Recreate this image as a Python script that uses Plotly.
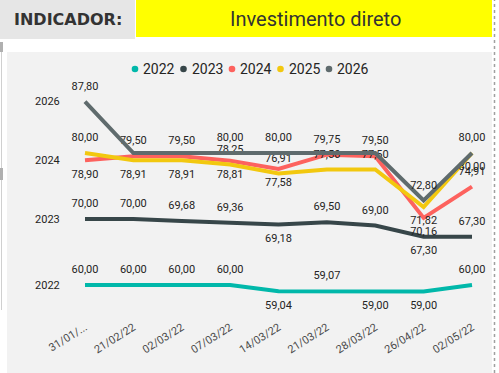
import plotly.graph_objects as go

W, H = 499, 373

# ---------------- data ----------------
dates = ["31/01/...", "21/02/22", "02/03/22", "07/03/22", "14/03/22",
         "21/03/22", "28/03/22", "26/04/22", "02/05/22"]
years = ["2022", "2023", "2024", "2025", "2026"]
colors = ["#01B8AA", "#374649", "#FD625E", "#F2C80F", "#5F6B6D"]

v2022 = [60.00, 60.00, 60.00, 60.00, 59.04, 59.07, 59.00, 59.00, 60.00]
v2023 = [70.00, 70.00, 69.68, 69.36, 69.18, 69.50, 69.00, 67.30, 67.30]
v2024 = [78.90, 79.50, 79.50, 78.81, 77.58, 79.75, 79.50, 70.16, 74.91]
v2025 = [80.00, 78.91, 78.91, 78.25, 76.91, 77.50, 77.50, 71.82, 80.00]
v2026 = [87.80, 80.00, 80.00, 80.00, 80.00, 80.00, 80.00, 72.80, 80.00]

# data label placement: 1 = above, -1 = below, 0 = hidden (overlap)
lab2022 = [1, 1, 1, 1, -1, 1, -1, -1, 1]
lab2023 = [1, 1, 1, 1, -1, 1, 1, -1, 1]
lab2024 = [-1, 1, 1, -1, -1, 1, 1, -1, 1]
lab2025 = [1, -1, -1, 1, 1, 1, 1, -1, -1]
lab2026 = [1, 0, 0, 1, 1, 0, 0, 1, 1]

axis_years = ["2022", "2023", "2024", "2026"]   # y-axis labels shown

series = [v2022, v2023, v2024, v2025, v2026]
labels = [lab2022, lab2023, lab2024, lab2025, lab2026]

# ---------------- layout helpers ----------------
def fx(px):
    return px / W

def fy(py):
    return 1 - py / H

def fmt(v):
    return f"{v:.2f}".replace(".", ",")

fig = go.Figure()

for name, col, vals, lab in zip(years, colors, series, labels):
    txt = [fmt(v) if l != 0 else "" for v, l in zip(vals, lab)]
    tpos = ["top center" if l >= 0 else "bottom center" for l in lab]
    fig.add_trace(go.Scatter(
        x=dates, y=vals, name=name, mode="lines+markers+text",
        line=dict(color=col, width=4),
        marker=dict(size=13, opacity=0, color=col),
        text=txt, textposition=tpos,
        textfont=dict(family="Roboto", size=11, color="#252423"),
        cliponaxis=False, hoverinfo="skip", showlegend=False,
    ))

tickvals = [series[years.index(y)][0] for y in axis_years]

shapes = [
    # chart card
    dict(type="rect", xref="paper", yref="paper", x0=fx(7), x1=fx(492),
         y0=fy(373), y1=fy(52), fillcolor="#F2F2F2", line=dict(width=0), layer="below"),
    # header boxes
    dict(type="rect", xref="paper", yref="paper", x0=fx(0), x1=fx(135),
         y0=fy(39), y1=fy(0), fillcolor="#E6E6E6", line=dict(width=0), layer="below"),
    dict(type="rect", xref="paper", yref="paper", x0=fx(136), x1=fx(492),
         y0=fy(37), y1=fy(0), fillcolor="#FFFF00", line=dict(width=0), layer="below"),
    # dotted right border
    dict(type="line", xref="paper", yref="paper", x0=fx(494.5), x1=fx(494.5),
         y0=fy(373), y1=fy(0), line=dict(color="#A0A0A0", width=1.5, dash="dot")),
    # left selection marks
    dict(type="line", xref="paper", yref="paper", x0=fx(1.5), x1=fx(1.5),
         y0=fy(310), y1=fy(42), line=dict(color="#D0D0D0", width=1)),
    dict(type="rect", xref="paper", yref="paper", x0=fx(0), x1=fx(3),
         y0=fy(52), y1=fy(42), fillcolor="#B0B0B0", line=dict(width=0)),
    dict(type="rect", xref="paper", yref="paper", x0=fx(0), x1=fx(3),
         y0=fy(180), y1=fy(168), fillcolor="#B0B0B0", line=dict(width=0)),
]

annotations = [
    dict(text="<b>INDICADOR:</b>", x=fx(68), y=fy(19.5), xref="paper", yref="paper",
         showarrow=False, xanchor="center", yanchor="middle",
         font=dict(family="DejaVu Sans", size=16, color="#333333")),
    dict(text="Investimento direto", x=fx(315), y=fy(19), xref="paper", yref="paper",
         showarrow=False, xanchor="center", yanchor="middle",
         font=dict(family="Roboto", size=20, color="#333333")),
]

# custom legend (dot + text)
leg_x0, leg_step, leg_y = 135, 48.5, 69
for i, (name, col) in enumerate(zip(years, colors)):
    cx = leg_x0 + i * leg_step
    shapes.append(dict(type="circle", xref="paper", yref="paper",
                       x0=fx(cx - 3.3), x1=fx(cx + 3.3), y0=fy(leg_y + 3.3), y1=fy(leg_y - 3.3),
                       fillcolor=col, line=dict(width=0)))
    annotations.append(dict(text=name, x=fx(cx + 6), y=fy(leg_y), xref="paper", yref="paper",
                            showarrow=False, xanchor="left", yanchor="middle",
                            font=dict(family="Roboto", size=14, color="#252423")))

fig.update_layout(
    width=W, height=H,
    margin=dict(l=0, r=0, t=0, b=0, pad=0, autoexpand=False),
    paper_bgcolor="#FFFFFF", plot_bgcolor="rgba(0,0,0,0)",
    shapes=shapes, annotations=annotations, showlegend=False,
    xaxis=dict(type="category", range=[-0.5, 8.5], domain=[fx(60.8), fx(496.2)],
               showgrid=False, showline=False, zeroline=False, ticks="",
               automargin=False,
               tickangle=-32, tickfont=dict(family="Roboto", size=11, color="#4A4A4A"),
               fixedrange=True),
    yaxis=dict(range=[55.0, 90.0], domain=[fy(318), fy(87)],
               showgrid=False, showline=False, zeroline=False, ticks="",
               automargin=False,
               tickvals=tickvals, ticktext=axis_years,
               tickfont=dict(family="Roboto", size=11, color="#252423"),
               fixedrange=True),
)

fig.write_html("out.html", config={"displayModeBar": False},
               post_script="document.body.style.margin='0';document.body.style.overflow='hidden';")
